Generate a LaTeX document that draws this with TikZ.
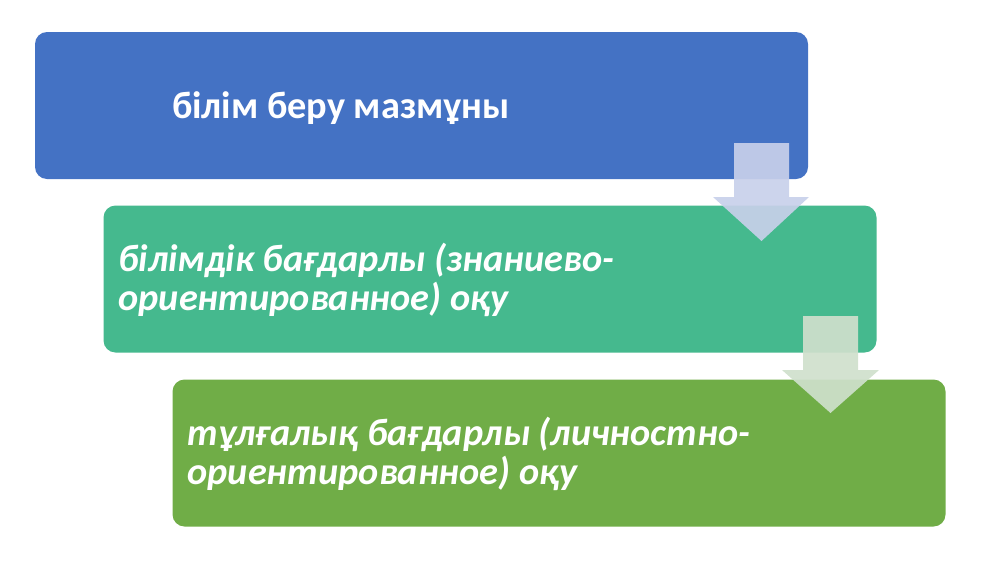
\documentclass[tikz,border=0pt]{standalone}
\usepackage{fontspec}
\setmainfont{Carlito}
\definecolor{cblue}{HTML}{4472C4}
\definecolor{cteal}{HTML}{45B98E}
\definecolor{cgreen}{HTML}{70AD47}
\definecolor{arrA}{HTML}{C8D0EA}
\definecolor{arrB}{HTML}{CFE0CC}
\begin{document}
\begin{tikzpicture}[x=1pt,y=-1pt,
  box/.style={rectangle, rounded corners=12pt, minimum width=773pt, minimum height=147pt, inner sep=0pt, draw=none},
  txt/.style={text=white, font=\fontsize{38.3}{39}\selectfont\bfseries, align=left, inner sep=0pt, anchor=west},
  itxt/.style={txt, font=\fontsize{38.3}{39}\selectfont\bfseries\itshape}]
\useasboundingbox (0,0) rectangle (1000,562);
\node[box, fill=cblue] (b1) at (421.5,105.5) {};
\node[box, fill=cteal] (b2) at (490,279) {};
\node[box, fill=cgreen] (b3) at (559,453) {};
\node[txt] (t1) at ([xshift=137pt,yshift=-3pt]b1.west) {білім беру мазмұны};
\node[itxt] (t2) at ([xshift=15pt,yshift=-1pt]b2.west) {білімдік бағдарлы (знаниево-\\ориентированное) оқу};
\node[itxt] (t3) at ([xshift=15pt,yshift=-1pt]b3.west) {тұлғалық бағдарлы (личностно-\\ориентированное) оқу};
\fill[arrA, opacity=0.92] (734,143) -- (789,143) -- (789,197) -- (809,197) -- (761.5,241) -- (713,197) -- (734,197) -- cycle;
\fill[arrB, opacity=0.92] (803,316) -- (858,316) -- (858,370) -- (879,370) -- (830.5,413) -- (782,370) -- (803,370) -- cycle;
\end{tikzpicture}
\end{document}
